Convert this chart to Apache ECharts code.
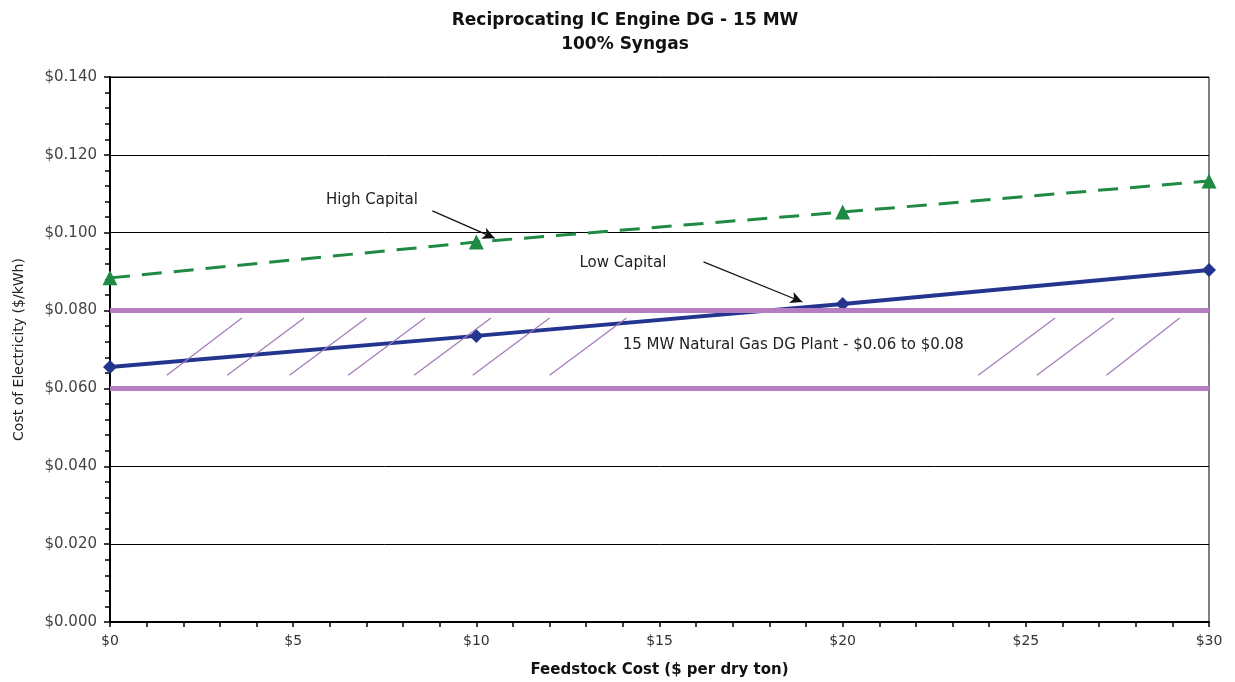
<!DOCTYPE html>
<html>
<head>
<meta charset="utf-8">
<title>Reciprocating IC Engine DG - 15 MW</title>
<script src="https://cdn.jsdelivr.net/npm/echarts@6/dist/echarts.min.js"></script>
<style>
  html, body { margin: 0; padding: 0; background: #fff; }
  #main { width: 1235px; height: 682px; }
</style>
</head>
<body>
<div id="main"></div>
<script>
// feedstock cost ($ per dry ton)
var feedstock = [0, 10, 20, 30];
// cost of electricity ($/kWh)
var highCapital = [0.0884, 0.0976, 0.1053, 0.1133];
var lowCapital = [0.0655, 0.0735, 0.0817, 0.0904];
// natural gas DG plant range
var bandLow = 0.06;
var bandHigh = 0.08;
// hatch strokes inside the band (start/end feedstock value)
var hatchStart = [1.55, 3.2, 4.9, 6.5, 8.3, 9.9, 12.0, 23.7, 25.3, 27.2];
var hatchEnd = [3.6, 5.3, 7.0, 8.6, 10.4, 12.0, 14.1, 25.8, 27.4, 29.2];
var hatchY = [0.0634, 0.0781];

var chart = echarts.init(document.getElementById('main'));

function pairs(xs, ys) {
    return xs.map(function (x, i) { return [x, ys[i]]; });
}

var hatchData = hatchStart.map(function (x, i) {
    return { coords: [[x, hatchY[0]], [hatchEnd[i], hatchY[1]]] };
});

var font = '"DejaVu Sans", Arial, sans-serif';

var option = {
    backgroundColor: '#fff',
    animation: false,
    title: {
        text: 'Reciprocating IC Engine DG - 15 MW\n100% Syngas',
        left: 620,
        textAlign: 'center',
        top: 4,
        textStyle: {
            fontFamily: font,
            fontSize: 17,
            fontWeight: 'bold',
            color: '#111',
            lineHeight: 24
        }
    },
    grid: {
        left: 110,
        right: 26,
        top: 77,
        bottom: 60,
        outerBoundsMode: 'none',
        containLabel: false,
        show: true,
        borderColor: '#000',
        borderWidth: 1
    },
    xAxis: {
        type: 'value',
        min: 0,
        max: 30,
        interval: 5,
        name: 'Feedstock Cost ($ per dry ton)',
        nameLocation: 'middle',
        nameGap: 41,
        nameTextStyle: { fontFamily: font, fontSize: 15, fontWeight: 'bold', color: '#111' },
        axisLine: { onZero: false, lineStyle: { color: '#000', width: 2 } },
        axisTick: { length: 5, lineStyle: { color: '#000', width: 1.5 } },
        minorTick: { show: true, splitNumber: 5, length: 5, lineStyle: { color: '#000', width: 1.5 } },
        splitLine: { show: false },
        axisLabel: {
            fontFamily: font, fontSize: 14, color: '#333', margin: 12,
            formatter: function (v) { return '$' + v; }
        }
    },
    yAxis: {
        type: 'value',
        min: 0,
        max: 0.14,
        interval: 0.02,
        name: 'Cost of Electricity ($/kWh)',
        nameLocation: 'middle',
        nameGap: 84,
        nameTextStyle: { fontFamily: font, fontSize: 14, color: '#222' },
        axisLine: { lineStyle: { color: '#000', width: 2 } },
        axisTick: { length: 6, lineStyle: { color: '#000', width: 1.5 } },
        minorTick: { show: true, splitNumber: 5, length: 5, lineStyle: { color: '#000', width: 1.5 } },
        splitLine: { show: true, lineStyle: { color: '#000', width: 1 } },
        axisLabel: {
            fontFamily: font, fontSize: 15, color: '#444', margin: 13,
            formatter: function (v) { return '$' + v.toFixed(3); }
        }
    },
    series: [
        {
            // natural gas band edges
            name: 'band',
            type: 'line',
            data: [],
            silent: true,
            markLine: {
                silent: true,
                symbol: 'none',
                label: { show: false },
                lineStyle: { color: '#b57ec2', width: 5, type: 'solid' },
                data: [{ yAxis: bandHigh }, { yAxis: bandLow }]
            },
            z: 1
        },
        {
            name: 'hatch',
            type: 'lines',
            coordinateSystem: 'cartesian2d',
            silent: true,
            lineStyle: { color: '#a27ab8', width: 1.2, opacity: 1 },
            data: hatchData,
            z: 3
        },
        {
            name: 'High Capital',
            type: 'line',
            data: pairs(feedstock, highCapital),
            symbol: 'triangle',
            symbolSize: 15,
            lineStyle: { color: '#1f8a44', width: 3, type: [20, 12] },
            itemStyle: { color: '#1f8a44' },
            z: 4
        },
        {
            name: 'Low Capital',
            type: 'line',
            data: pairs(feedstock, lowCapital),
            symbol: 'diamond',
            symbolSize: 14,
            lineStyle: { color: '#24358f', width: 4 },
            itemStyle: { color: '#24358f' },
            z: 2
        },
        {
            // annotations and arrows
            name: 'notes',
            type: 'line',
            data: [],
            silent: true,
            markPoint: {
                silent: true,
                symbol: 'circle',
                symbolSize: 0,
                label: {
                    show: true,
                    fontFamily: font,
                    fontSize: 15,
                    color: '#222',
                    formatter: '{b}'
                },
                data: [
                    { name: 'High Capital', coord: [7.15, 0.1085] },
                    { name: 'Low Capital', coord: [14.0, 0.0922] },
                    { name: '15 MW Natural Gas DG Plant - $0.06 to $0.08', coord: [18.65, 0.0712] }
                ]
            },
            markLine: {
                silent: true,
                symbol: ['none', 'arrow'],
                symbolSize: [9, 12],
                label: { show: false },
                lineStyle: { color: '#111', width: 1.2, type: 'solid' },
                data: [
                    [{ coord: [8.8, 0.1056] }, { coord: [10.5, 0.0986] }],
                    [{ coord: [16.2, 0.0925] }, { coord: [18.9, 0.0822] }]
                ]
            },
            z: 5
        }
    ]
};

chart.setOption(option);
</script>
</body>
</html>
